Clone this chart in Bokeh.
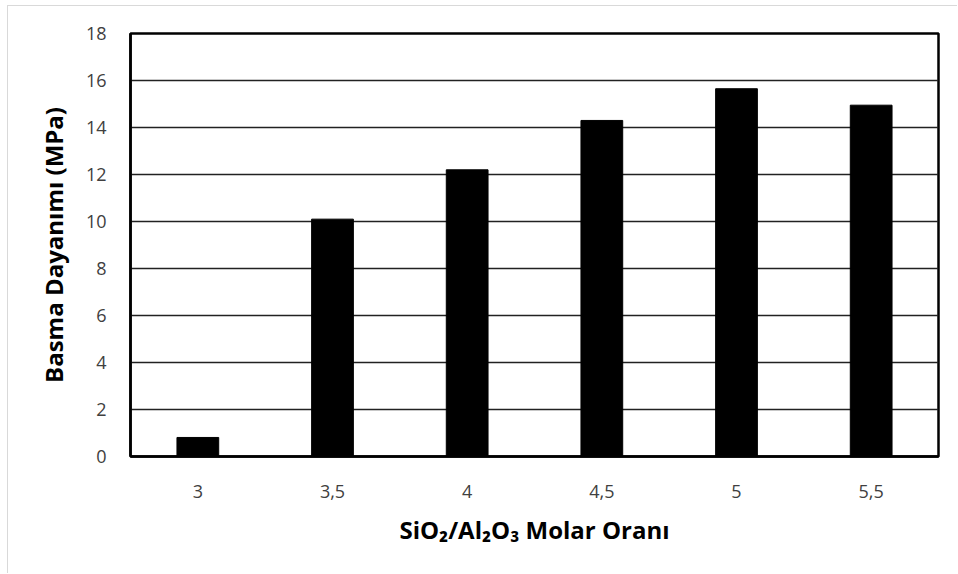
from bokeh.plotting import figure
from bokeh.embed import file_html
from bokeh.resources import INLINE
from bokeh.models import ColumnDataSource, FixedTicker, Range1d

categories = ["3", "3,5", "4", "4,5", "5", "5,5"]
strength = [0.81, 10.1, 12.2, 14.3, 15.65, 14.95]
y_ticks = [0, 2, 4, 6, 8, 10, 12, 14, 16, 18]

src = ColumnDataSource(dict(x=categories, top=strength))

p = figure(x_range=categories, y_range=Range1d(0, 18),
           width=950, height=568, output_backend="svg", toolbar_location=None,
           min_border_left=122, min_border_right=20, min_border_top=27, min_border_bottom=118,
           styles={"margin-left": "7px", "margin-top": "5px",
                   "border-left": "1px solid #d9d9d9", "border-top": "1px solid #d9d9d9"})

p.vbar(x="x", top="top", width=0.31, source=src, color="black")

p.yaxis.ticker = FixedTicker(ticks=y_ticks)
p.ygrid.grid_line_color = "#222222"
p.ygrid.grid_line_width = 1.3
p.xgrid.grid_line_color = None

p.outline_line_color = "black"
p.outline_line_width = 2.5
p.outline_line_alpha = 1

for ax in (p.xaxis, p.yaxis):
    ax.axis_line_color = "black"
    ax.axis_line_width = 2.5
    ax.major_tick_line_color = None
    ax.minor_tick_line_color = None
    ax.major_label_text_font = "Open Sans"
    ax.major_label_text_font_size = "18px"
    ax.major_label_text_color = "#404040"
    ax.axis_label_text_font = "Open Sans"
    ax.axis_label_text_font_style = "bold"
    ax.axis_label_text_font_size = "24px"
    ax.axis_label_text_color = "black"

p.yaxis.major_label_standoff = 18
p.yaxis.axis_label = "Basma Dayanımı (MPa)"
p.yaxis.axis_label_standoff = 13
p.xaxis.major_label_standoff = 22
p.xaxis.axis_label = "SiO₂/Al₂O₃ Molar Oranı"
p.xaxis.axis_label_standoff = 12

p.x_range.range_padding = 0.0

open("out.html", "w").write(file_html(p, INLINE))
